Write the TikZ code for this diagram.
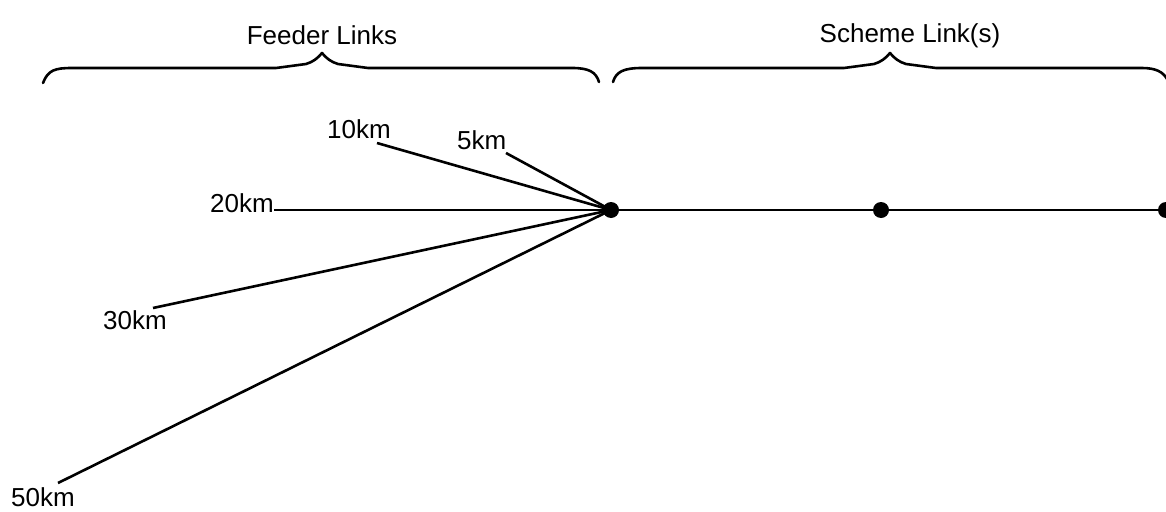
\documentclass[tikz,border=0pt]{standalone}
\usepackage{fontspec}
\setmainfont{Liberation Sans}
\begin{document}
\begin{tikzpicture}[x=1pt,y=-1pt,
  link/.style={line width=2.6pt},
  bracepath/.style={line width=2.6pt, line join=round, line cap=round},
  dist/.style={inner sep=0pt, anchor=base west, font=\fontsize{26}{31}\selectfont},
  title/.style={inner sep=0pt, anchor=base, font=\fontsize{26}{31}\selectfont},
  dot/.style={circle, fill=black, inner sep=0pt, minimum size=16pt}]
\useasboundingbox (0,0) rectangle (1166,511);

% section titles
\node[title] (tfeed) at (322,45) {Feeder Links};
\node[title] (tscheme) at (910,43) {Scheme Link(s)};

% curly braces over the two sections
\draw[bracepath] (43,83) .. controls (48,70) and (55,68) .. (72,68)
  -- (276,68) -- (306,64) .. controls (313,62) and (318,58) .. (322,53)
  .. controls (326,58) and (331,62) .. (338,64) -- (368,68) -- (572,68)
  .. controls (589,68) and (596,72) .. (599,82);
\draw[bracepath] (613,82) .. controls (616,72) and (623,68) .. (642,68)
  -- (844,68) -- (874,64) .. controls (881,62) and (886,58) .. (890,53)
  .. controls (894,58) and (899,62) .. (906,64) -- (936,68) -- (1142,68)
  .. controls (1156,68) and (1163,72) .. (1167,79);

% feeder length labels
\node[dist] (l10) at (327,138) {10km};
\node[dist] (l5)  at (457,149) {5km};
\node[dist] (l20) at (210,212) {20km};
\node[dist] (l30) at (103,329) {30km};
\node[dist] (l50) at (11,506)  {50km};

% free ends of the feeder links
\coordinate (s10) at (377,143);
\coordinate (s5)  at (506,153);
\coordinate (s20) at (274,210);
\coordinate (s30) at (153,308);
\coordinate (s50) at (58,483);

% junctions on the scheme link
\node[dot] (hub) at (611,210) {};
\node[dot] (d2)  at (881,210) {};
\node[dot] (d3)  at (1166,210) {};

% feeder links into the hub
\draw[link] (s10) -- (hub.center);
\draw[link] (s5)  -- (hub.center);
\draw[link] (s20) -- (hub.center);
\draw[link] (s30) -- (hub.center);
\draw[link] (s50) -- (hub.center);

% scheme link
\draw[link] (hub.center) -- (d2.center) -- (d3.center);
\end{tikzpicture}
\end{document}
